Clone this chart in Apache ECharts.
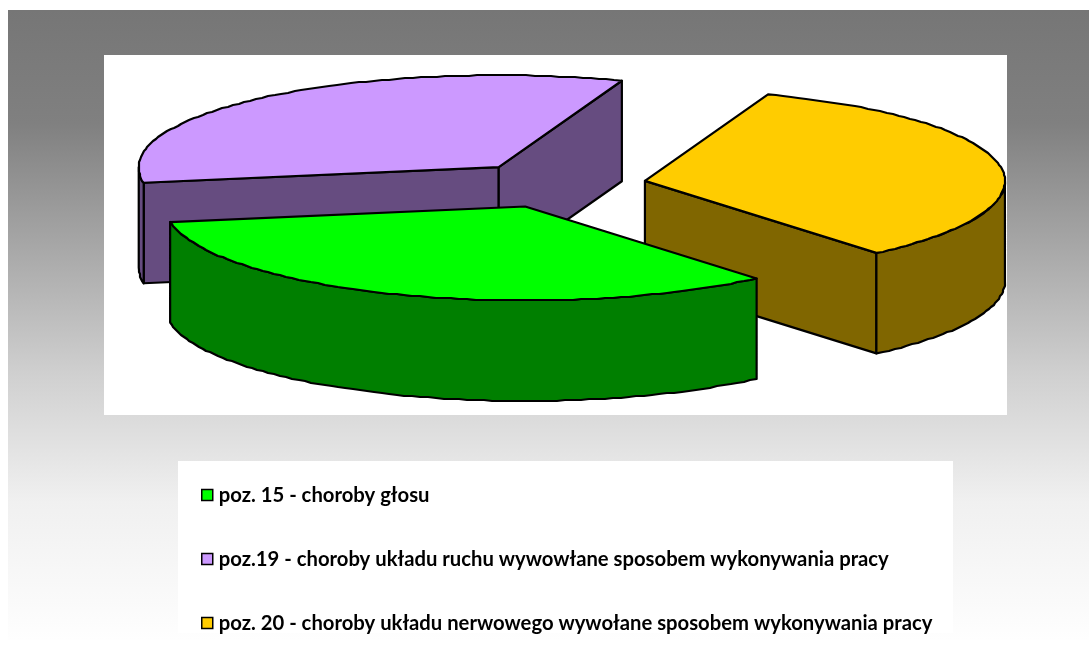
<!DOCTYPE html>
<html><head><meta charset="utf-8">
<style>html,body{margin:0;padding:0;background:#fff}#c{width:1089px;height:652px}</style>
<script src="https://cdn.jsdelivr.net/npm/echarts@6/dist/echarts.min.js"></script>
</head><body><div id="c"></div>
<script>
var categories = [
  'poz. 15 - choroby głosu',
  'poz.19 - choroby układu ruchu wywowłane sposobem wykonywania pracy',
  'poz. 20 - choroby układu nerwowego wywołane sposobem wykonywania pracy'
];
var values = [33.47, 33.2, 33.33];
var topColors = ['#00FF00', '#CC99FF', '#FFCC00'];
var sideColors = ['#007F00', '#664C80', '#806600'];

// pie sweep order (clockwise from start angle): yellow, green, purple
var sweepOrder = [2, 0, 1];
// paint order, back to front
var paintOrder = [1, 2, 0];
var startAngle = 20;
var cx = 556.3, cy = 184.9, rx = 360, ryBack = 92, ryFront = 94, depth = 100.5, explode = 90;

var total = values.reduce(function (a, b) { return a + b; }, 0);
var spans = {};
(function () {
  var a = startAngle;
  sweepOrder.forEach(function (i) {
    var s = values[i] / total * 360;
    spans[i] = [a, a + s];
    a += s;
  });
})();
function rad(d) { return d * Math.PI / 180; }
function ellipseY(t) {
  var c = Math.cos(rad(t));
  return -(c > 0 ? ryBack : ryFront) * c;
}
function arc(ox, oy, t1, t2, dy) {
  var pts = [[ox + rx * Math.sin(rad(t1)), oy + ellipseY(t1) + dy]];
  var n = Math.max(1, Math.round((t2 - t1) / 1.3));
  for (var k = 1; k < n; k++) {
    var t = t1 + (t2 - t1) * k / n;
    pts.push([Math.round(ox + rx * Math.sin(rad(t))), Math.round(oy + ellipseY(t) + dy)]);
  }
  pts.push([ox + rx * Math.sin(rad(t2)), oy + ellipseY(t2) + dy]);
  return pts;
}
var edge = { stroke: '#000', lineWidth: 2.2, lineJoin: 'round' };
function sliceRender(idx) {
  return function () {
    var s = spans[idx], t1 = s[0], t2 = s[1], mid = (t1 + t2) / 2;
    var ox = cx + explode * Math.sin(rad(mid));
    var oy = cy - explode * (ryBack / rx) * Math.cos(rad(mid));
    var side = sideColors[idx], kids = [];
    function poly(points, fill) {
      kids.push({ type: 'polygon', shape: { points: points }, style: Object.assign({ fill: fill }, edge) });
    }
    function radial(t) {
      var px = ox + rx * Math.sin(rad(t)), py = oy + ellipseY(t);
      poly([[ox, oy], [px, py], [px, py + depth], [ox, oy + depth]], side);
    }
    if (Math.cos(rad(t1 - 90)) < 0) radial(t1);
    if (Math.cos(rad(t2 + 90)) < 0) radial(t2);
    var r1 = Math.max(t1, 90), r2 = Math.min(t2, 270);
    if (r2 > r1) {
      poly(arc(ox, oy, r1, r2, 0).concat(arc(ox, oy, r1, r2, depth).reverse()), side);
    }
    poly([[ox, oy]].concat(arc(ox, oy, t1, t2, 0)), topColors[idx]);
    return { type: 'group', children: kids };
  };
}
var series = paintOrder.map(function (i) {
  return {
    type: 'custom', name: categories[i], coordinateSystem: 'none',
    data: [values[i]], renderItem: sliceRender(i), silent: true, animation: false,
    itemStyle: { color: topColors[i] }
  };
});
var chart = echarts.init(document.getElementById('c'), null, { renderer: 'canvas' });
chart.setOption({
  animation: false,
  graphic: { elements: [
    { type: 'rect', z: -10, silent: true, shape: { x: 8, y: 10, width: 1081, height: 630 },
      style: { fill: new echarts.graphic.LinearGradient(0, 0, 0, 1, [
        { offset: 0, color: '#767676' }, { offset: 0.18, color: '#808080' }, { offset: 0.38, color: '#A8A8A8' },
        { offset: 0.58, color: '#D0D0D0' }, { offset: 0.78, color: '#F0F0F0' }, { offset: 1, color: '#FEFEFE' }]) } },
    { type: 'rect', z: -9, silent: true, shape: { x: 104, y: 55, width: 903, height: 360 }, style: { fill: '#fff' } },
    { type: 'rect', z: -9, silent: true, shape: { x: 178, y: 461, width: 775, height: 172 }, style: { fill: '#fff' } }
  ] },
  legend: {
    orient: 'vertical', left: 201, top: 485, itemWidth: 11, itemHeight: 11, itemGap: 44, padding: 0, selectedMode: false,
    icon: 'rect',
    textStyle: { fontFamily: 'Lato', fontWeight: 'bold', fontSize: 20.25, color: '#000', lineHeight: 18, padding: [0, 0, 0, 1] },
    data: categories.map(function (c, i) {
      return { name: c, icon: 'rect', itemStyle: { color: topColors[i], borderColor: '#000', borderWidth: 1.5 } };
    })
  },
  series: series
});
</script></body></html>
